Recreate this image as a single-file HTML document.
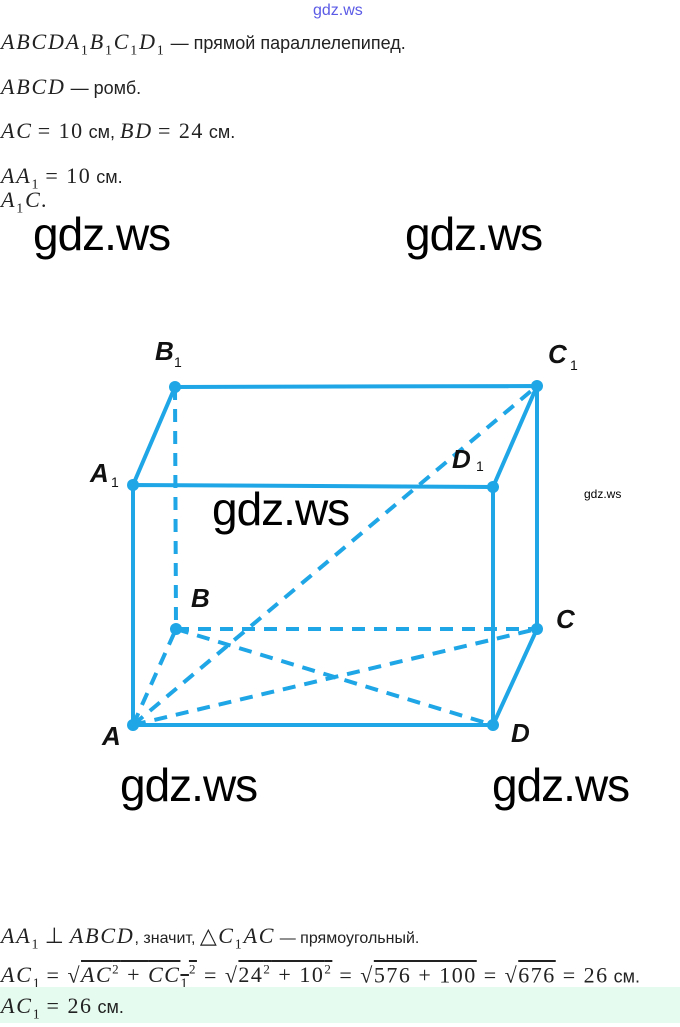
<!DOCTYPE html>
<html><head><meta charset="utf-8"><style>
body{margin:0;width:680px;height:1023px;background:#fff;position:relative;overflow:hidden;font-family:"Liberation Sans",sans-serif;color:#222}
.t{position:absolute;left:1px;font-size:18px;white-space:nowrap;line-height:24px}
.m{font-family:"Liberation Serif",serif;font-style:italic;font-size:22px;letter-spacing:1.8px}
.n{font-family:"Liberation Serif",serif;font-size:22px;letter-spacing:1.5px}
sub{font-size:14px;font-style:normal;font-family:"Liberation Serif",serif}
sup{font-size:13px;font-family:"Liberation Serif",serif}
.w{position:absolute;font-size:46px;color:#000;line-height:46px;font-family:"Liberation Sans",sans-serif;letter-spacing:-1px}
.lb{font-family:"Liberation Sans",sans-serif;font-style:italic;font-weight:bold;font-size:26px;fill:#111}
.s1{font-family:"Liberation Sans",sans-serif;font-size:14px;fill:#111}
</style></head><body>
<div style="position:absolute;left:313px;top:2px;font-size:16px;color:#5a5ae6">gdz.ws</div>
<div class="t" style="top:30px"><span class="m">ABCDA<sub>1</sub>B<sub>1</sub>C<sub>1</sub>D<sub>1</sub></span> — прямой параллелепипед.</div>
<div class="t" style="top:75px"><span class="m">ABCD</span> — ромб.</div>
<div class="t" style="top:119px"><span class="m">AC</span> <span class="n">= 10</span> см, <span class="m">BD</span> <span class="n">= 24</span> см.</div>
<div class="t" style="top:164px"><span class="m">AA<sub>1</sub></span> <span class="n">= 10</span> см.</div>
<div class="t" style="top:188px"><span class="m">A<sub>1</sub>C.</span></div>
<div class="w" style="left:33px;top:211px">gdz.ws</div>
<div class="w" style="left:405px;top:211px">gdz.ws</div>
<svg style="position:absolute;left:0;top:0" width="680" height="1023">
<g stroke="#1ea6e6" stroke-width="4" fill="none" stroke-linecap="round">
<path d="M133 725 L493 725 L493 487 L133 485 Z M133 485 L175 387 L537 386 L493 487 M537 386 L537 629 L493 725"/>
<g stroke-dasharray="13 9" stroke-linecap="butt">
<path d="M175 387 L176 629 M176 629 L537 629 M133 725 L176 629 M176 629 L493 725 M133 725 L537 629 M133 725 L537 386"/>
</g>
</g>
<g fill="#1ea6e6">
<circle cx="133" cy="725" r="6"/><circle cx="493" cy="725" r="6"/><circle cx="133" cy="485" r="6"/><circle cx="493" cy="487" r="6"/>
<circle cx="175" cy="387" r="6"/><circle cx="537" cy="386" r="6"/><circle cx="176" cy="629" r="6"/><circle cx="537" cy="629" r="6"/>
</g>
<text class="lb" x="155" y="360">B</text><text class="s1" x="174" y="367">1</text>
<text class="lb" x="548" y="363">C</text><text class="s1" x="570" y="370">1</text>
<text class="lb" x="90" y="482">A</text><text class="s1" x="111" y="487">1</text>
<text class="lb" x="452" y="468">D</text><text class="s1" x="476" y="471">1</text>
<text class="lb" x="191" y="607">B</text>
<text class="lb" x="556" y="628">C</text>
<text class="lb" x="102" y="745">A</text>
<text class="lb" x="511" y="742">D</text>
<text x="584" y="498" style="font-family:'Liberation Sans',sans-serif;font-size:12px;fill:#000">gdz.ws</text>
</svg>
<div class="w" style="left:212px;top:486px">gdz.ws</div>
<div class="w" style="left:120px;top:762px">gdz.ws</div>
<div class="w" style="left:492px;top:762px">gdz.ws</div>
<div class="t" style="top:924px;font-size:16px"><span class="m">AA<sub>1</sub></span> <span class="n">⊥</span> <span class="m">ABCD</span>, значит, <span class="n">△</span><span class="m">C<sub>1</sub>AC</span> — прямоугольный.</div>
<div class="t" style="top:958px;font-size:18px"><span class="m">AC<sub>1</sub></span> <span class="n">= √<span style="text-decoration:overline"><i>AC</i><sup>2</sup> + <i>CC</i><sub>1</sub><sup>2</sup></span> = √<span style="text-decoration:overline">24<sup>2</sup> + 10<sup>2</sup></span> = √<span style="text-decoration:overline">576 + 100</span> = √<span style="text-decoration:overline">676</span> = 26</span> см.</div>
<div style="position:absolute;left:0;top:987px;width:680px;height:36px;background:#e6fbef"></div>
<div class="t" style="top:994px;font-size:18px"><span class="m">AC<sub>1</sub></span> <span class="n">= 26</span> см.</div>
</body></html>
